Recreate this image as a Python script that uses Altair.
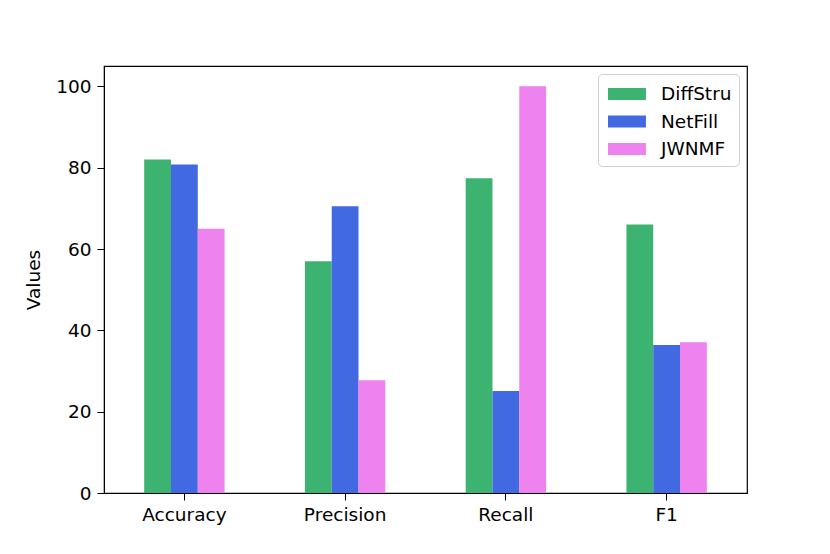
import altair as alt
import pandas as pd

metrics = ["Accuracy", "Precision", "Recall", "F1"]
methods = ["DiffStru", "NetFill", "JWNMF"]
diffstru = [82.0, 57.0, 77.4, 66.0]
netfill = [80.8, 70.5, 25.1, 36.4]
jwnmf = [65.0, 27.7, 100.0, 37.1]
colors = ["#3CB371", "#4169E1", "#EE82EE"]

rows = []
for name, vals in zip(methods, [diffstru, netfill, jwnmf]):
    for m, v in zip(metrics, vals):
        rows.append({"Metric": m, "Method": name, "Value": v})
df = pd.DataFrame(rows)

font = "DejaVu Sans"
fs = 18.5

chart = alt.Chart(df).mark_bar().encode(
    x=alt.X("Metric:N", sort=metrics,
            scale=alt.Scale(paddingInner=0.5, paddingOuter=0.25),
            axis=alt.Axis(title=None, labelAngle=0, labelFontSize=fs, labelFont=font,
                          labelColor="black", domainColor="black", tickColor="black",
                          tickSize=7, labelPadding=5)),
    xOffset=alt.XOffset("Method:N", sort=methods, scale=alt.Scale(paddingInner=0, paddingOuter=0)),
    y=alt.Y("Value:Q", scale=alt.Scale(domain=[0, 105], nice=False),
            axis=alt.Axis(title="Values", values=[0, 20, 40, 60, 80, 100], grid=False,
                          labelFontSize=fs, labelFont=font, labelColor="black",
                          titleFontSize=fs, titleFont=font, titleFontWeight="normal",
                          titleColor="black", domainColor="black", tickColor="black",
                          tickSize=7, labelPadding=6, titlePadding=12)),
    color=alt.Color("Method:N", sort=methods,
                    scale=alt.Scale(domain=methods, range=colors),
                    legend=alt.Legend(title=None, orient="top-right", labelFontSize=fs,
                                      labelFont=font, labelColor="black",
                                      symbolType="M-0.77,-0.46L2.15,-0.46L2.15,0.46L-0.77,0.46Z",
                                      symbolSize=676, symbolStrokeWidth=0,
                                      strokeColor="#d0d0d0", fillColor="white",
                                      cornerRadius=4, padding=7, rowPadding=4.5,
                                      labelOffset=30, offset=8)),
).properties(
    width=643, height=427,
    autosize=alt.AutoSizeParams(type="none"),
    padding={"left": 96, "top": 58, "right": 70, "bottom": 50},
).configure_view(stroke="black", strokeWidth=1.2)

chart.save("out.html", embed_options={"renderer": "svg", "actions": False})
